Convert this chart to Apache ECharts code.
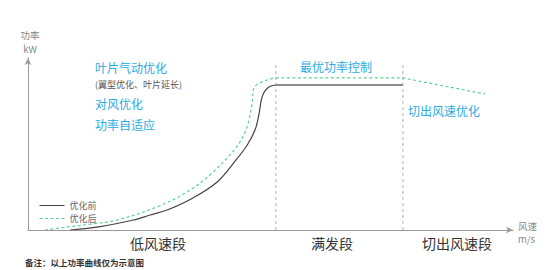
<!DOCTYPE html>
<html><head><meta charset="utf-8">
<script src="https://cdn.jsdelivr.net/npm/echarts@6/dist/echarts.min.js"></script>
<style>html,body{margin:0;padding:0;background:#fff}#c{width:554px;height:270px}</style>
</head><body><div id="c"></div>
<script>
// x: wind speed (relative units 0-100), y: power (relative units 0-100)
const beforeCurve = [[8.7,0],[14.9,2.0],[21.7,5.8],[25.2,8.7],[28.7,11.6],[34.0,18.6],[39.0,27.9],[42.9,40.7],[45.2,49.4],[46.8,58.1],[47.6,66.9],[48.1,75.6],[48.6,79.7],[49.3,82.3],[50.1,83.7],[51.1,84.3]];
const beforePlateau = [[51.1,84.3],[77.3,84.3]];
const afterCurve = [[3.5,0],[8.0,1.7],[13.2,3.5],[18.4,5.8],[26.6,13.4],[32.8,22.1],[37.5,32.0],[42.5,46.5],[44.7,56.4],[45.7,65.7],[46.3,75.6],[46.4,80.8],[46.8,83.4],[47.6,85.2],[49.3,87.2],[51.1,88.4]];
const afterTail = [[51.1,88.4],[77.3,88.4],[94.2,79.1]];
const boundaryA = [[51.1,0],[51.1,97.1]];
const boundaryB = [[77.3,0],[77.3,97.1]];
const seriesNames = ['优化前','优化后'];
const segmentLabels = ['低风速段','满发段','切出风速段'];
const noteText = '备注：以上功率曲线仅为示意图';

const FONT = '"Noto Sans CJK SC", "Noto Sans", sans-serif';
const BLUE = '#29abe2';
const GREEN = '#5fd293';
const DASH = [3, 2.5];
function txt(x, y, text, size, color, align, weight) {
  return { type: 'text', x: x, y: y, style: { text: text, fontSize: size, fill: color, align: align || 'left', verticalAlign: 'middle', fontFamily: FONT, fontWeight: weight || 'normal' } };
}
const chart = echarts.init(document.getElementById('c'), null, { renderer: 'svg' });
chart.setOption({
  animation: false,
  grid: { left: 28, right: 41, top: 58, bottom: 40 },
  xAxis: { type: 'value', min: 0, max: 100, splitLine: { show: false }, axisTick: { show: false }, axisLabel: { show: false },
    axisLine: { lineStyle: { color: '#9a9a9a', width: 1 }, symbol: ['none', 'arrow'], symbolSize: [5, 7] } },
  yAxis: { type: 'value', min: 0, max: 100, splitLine: { show: false }, axisTick: { show: false }, axisLabel: { show: false },
    axisLine: { lineStyle: { color: '#9a9a9a', width: 1 }, symbol: ['none', 'arrow'], symbolSize: [5, 7] } },
  legend: { data: seriesNames, orient: 'vertical', left: 34, top: 196, itemWidth: 25, itemHeight: 8, itemGap: 4,
    itemStyle: { opacity: 0 }, lineStyle: { width: 1 },
    textStyle: { fontSize: 9, color: '#666', fontFamily: FONT } },
  series: [
    { name: 'bA', type: 'line', data: boundaryA, symbol: 'none', silent: true, lineStyle: { color: '#b0b0b0', width: 1, type: [3, 3] }, z: 1 },
    { name: 'bB', type: 'line', data: boundaryB, symbol: 'none', silent: true, lineStyle: { color: '#b0b0b0', width: 1, type: [3, 3] }, z: 1 },
    { name: seriesNames[0], type: 'line', data: beforeCurve, symbol: 'none', smooth: 0.35, lineStyle: { color: '#444', width: 1.2 }, itemStyle: { color: '#444' }, z: 3 },
    { name: 'plateau', type: 'line', data: beforePlateau, symbol: 'none', lineStyle: { color: '#8c8c8c', width: 2 }, z: 3 },
    { name: seriesNames[1], type: 'line', data: afterCurve, symbol: 'none', smooth: 0.35, lineStyle: { color: GREEN, width: 1.2, type: DASH }, itemStyle: { color: GREEN }, z: 2 },
    { name: 'afterTail', type: 'line', data: afterTail, symbol: 'none', lineStyle: { color: GREEN, width: 1.2, type: DASH }, z: 2 }
  ],
  graphic: [
    txt(30, 35, '功率', 9.5, '#888', 'center'),
    txt(30, 48.5, 'kW', 9.5, '#888', 'center'),
    txt(518, 226, '风速', 9.5, '#888'),
    txt(518, 239, 'm/s', 9.5, '#888'),
    txt(95, 67, '叶片气动优化', 12, BLUE),
    txt(95, 84.5, '(翼型优化、叶片延长)', 9, '#555'),
    txt(95, 103.5, '对风优化', 12, BLUE),
    txt(95, 124.5, '功率自适应', 12, BLUE),
    txt(300, 66, '最优功率控制', 12, BLUE),
    txt(408, 110, '切出风速优化', 12, BLUE),
    txt(158, 243, segmentLabels[0], 14, '#333', 'center'),
    txt(332, 243, segmentLabels[1], 14, '#333', 'center'),
    txt(457, 243, segmentLabels[2], 14, '#333', 'center'),
    txt(25, 262, noteText, 8.5, '#333', 'left', 'bold')
  ]
});
</script></body></html>
